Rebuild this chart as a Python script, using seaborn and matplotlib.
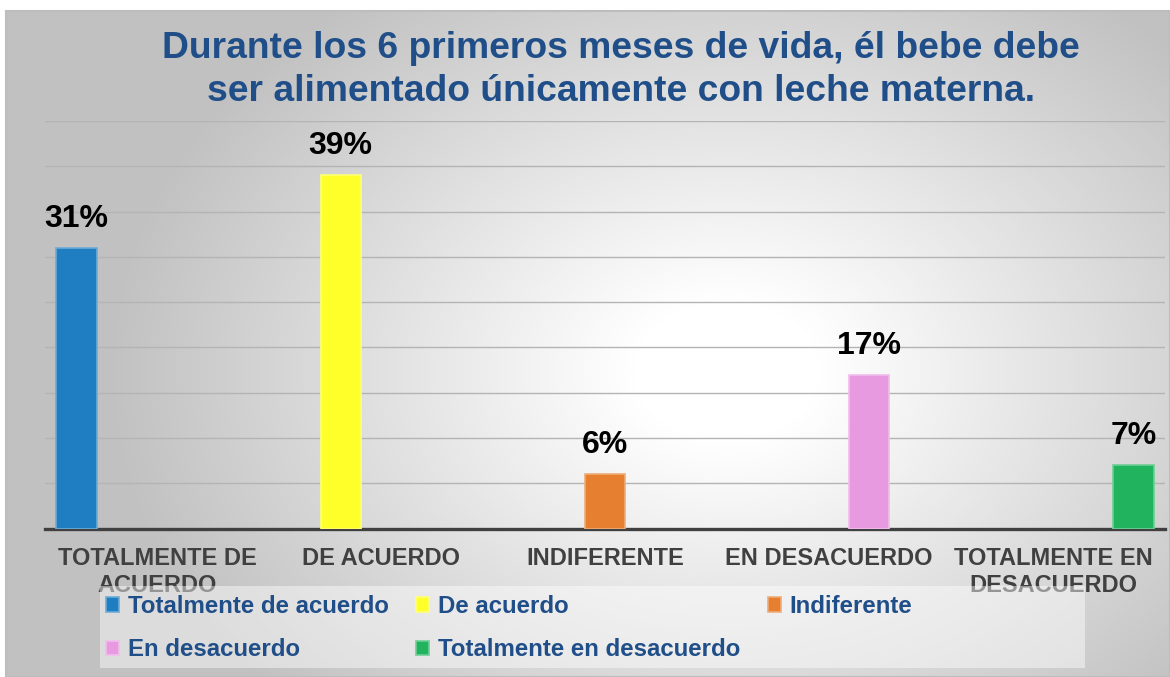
import textwrap

import numpy as np
import pandas as pd
import seaborn as sns
import matplotlib.pyplot as plt
from matplotlib.patches import Rectangle
from matplotlib.colors import to_rgb

categories = ["TOTALMENTE DE ACUERDO", "DE ACUERDO", "INDIFERENTE",
              "EN DESACUERDO", "TOTALMENTE EN DESACUERDO"]
series = ["Totalmente de acuerdo", "De acuerdo", "Indiferente",
          "En desacuerdo", "Totalmente en desacuerdo"]
values = [31, 39, 6, 17, 7]
colors = ["#1f7dc2", "#ffff2a", "#e67f30", "#e89ae0", "#22b35f"]

title = ("Durante los 6 primeros meses de vida, él bebe debe\n"
         "ser alimentado únicamente con leche materna.")

W, H = 1170, 677
BLUE = "#1f4e89"
FONT = ["Liberation Sans", "DejaVu Sans"]


def lighten(c, amt=0.35):
    r, g, b = to_rgb(c)
    return (r + (1 - r) * amt, g + (1 - g) * amt, b + (1 - b) * amt)


sns.set_theme(style="white")
plt.rcParams["font.family"] = FONT
plt.rcParams["font.weight"] = "bold"

fig = plt.figure(figsize=(W / 100, H / 100), dpi=100)

# radial grey background of the chart area
bg = fig.add_axes([6 / W, 0, 1 - 6 / W, 1 - 11 / H], zorder=-5)
yy, xx = np.mgrid[0:H - 11, 0:W - 6]
d = np.sqrt(((xx - 720) / 620.0) ** 2 + ((yy - 360) / 470.0) ** 2)
shade = 255 - 62 * np.clip((d - 0.15) / 0.85, 0, 1)
bg.imshow(np.dstack([shade] * 3).astype(np.uint8), aspect="auto",
          extent=[0, 1, 0, 1])
bg.set_axis_off()
fig.patches.append(Rectangle((6 / W, 0), 1 - 6 / W, 1 - 11 / H,
                             transform=fig.transFigure, fill=False,
                             edgecolor="#bdbdbd", linewidth=1.5, zorder=-4))

ax = fig.add_axes([45 / W, 1 - 528.6 / H, 1120 / W, 407.6 / H])
ax.patch.set_alpha(0)

df = pd.DataFrame({"categoria": categories, "serie": series, "valor": values})
sns.barplot(data=df, x="categoria", y="valor", hue="serie",
            order=categories, hue_order=series, palette=colors,
            dodge=True, width=0.9, saturation=1, legend=False, ax=ax,
            zorder=3)

for cont, col in zip(ax.containers, colors):
    for bar in cont:
        bar.set_edgecolor(lighten(col))
        bar.set_linewidth(1.2)
    ax.bar_label(cont, labels=[f"{v:.0f}%" for v in cont.datavalues],
                 padding=10, fontsize=23, fontweight="bold", color="black")

ax.set_ylim(0, 45)
ax.set_yticks(range(0, 46, 5))
ax.yaxis.grid(True, color="#b4b4b4", linewidth=1)
ax.set_axisbelow(True)
ax.tick_params(axis="y", left=False, labelleft=False)
ax.tick_params(axis="x", length=0, pad=13)
ax.set_xticks(range(len(categories)))
ax.set_xticklabels([textwrap.fill(c, 14) for c in categories],
                   fontsize=17, fontweight="bold", color="#404040",
                   linespacing=1.25)
ax.set_xlabel("")
ax.set_ylabel("")
for s in ["left", "right", "top"]:
    ax.spines[s].set_visible(False)
ax.spines["bottom"].set_color("#404040")
ax.spines["bottom"].set_linewidth(2.4)
ax.set_xlim(-0.5, len(categories) - 0.5)

fig.text(621 / W, 1 - 70 / H, title, ha="center", va="center",
         fontsize=26.8, fontweight="bold", color=BLUE, linespacing=1.27)

# legend panel
fig.patches.append(Rectangle((100 / W, 1 - 668 / H), 985 / W, 82 / H,
                             transform=fig.transFigure, facecolor="white",
                             alpha=0.45, edgecolor="none", zorder=2))
handles = [c.patches[0] for c in ax.containers]
order = [0, 3, 1, 4, 2]
leg = fig.legend([handles[i] for i in order], [series[i] for i in order],
                 ncol=3, loc="upper left",
                 bbox_to_anchor=(106 / W, 1 - 595 / H), frameon=False,
                 borderpad=0, borderaxespad=0,
                 handlelength=0.55, handleheight=0.55, handletextpad=0.35,
                 columnspacing=1.15, labelspacing=0.85,
                 prop={"family": FONT, "weight": "bold", "size": 17.3})
for t in leg.get_texts():
    t.set_color(BLUE)

fig.savefig("out.png", dpi=100)
